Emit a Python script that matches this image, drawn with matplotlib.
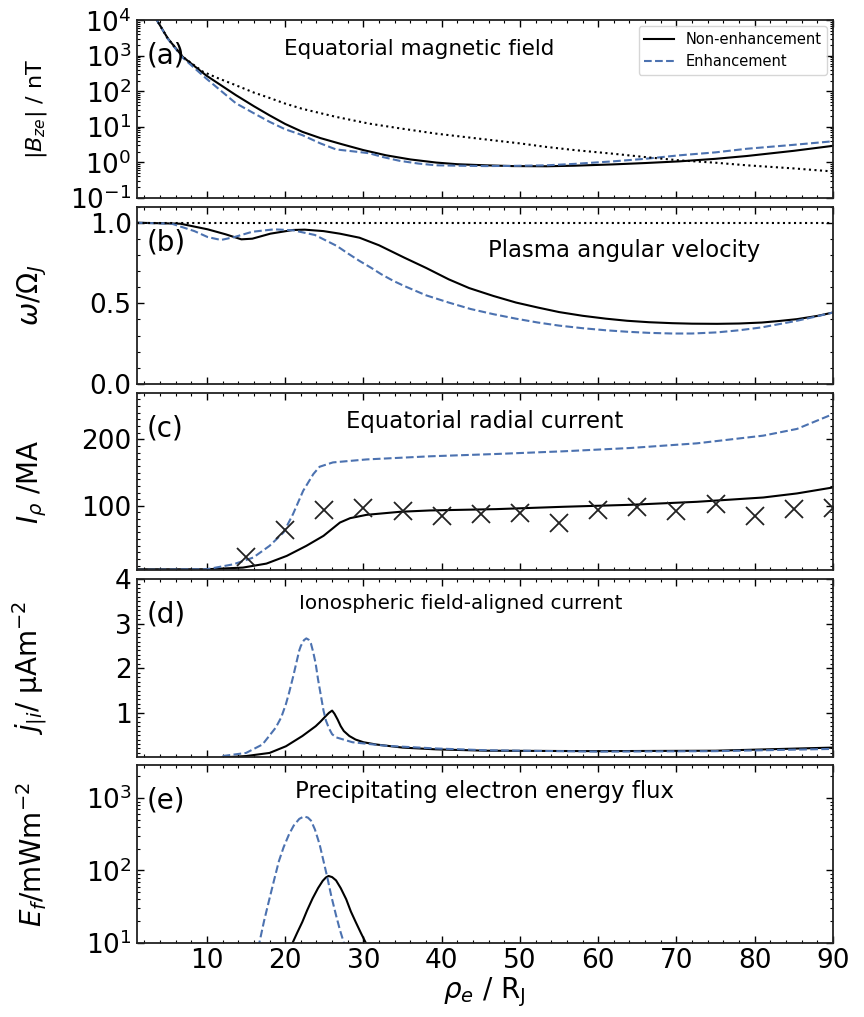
import numpy as np
import matplotlib
matplotlib.use('Agg')
import matplotlib.pyplot as plt
from matplotlib.ticker import MultipleLocator, LogLocator, NullFormatter

blue = '#4C72B0'

# (a) equatorial magnetic field |Bze| (nT)
xa = [3.4, 5.0, 6.9, 9.9, 13.7, 16.0, 18.0, 20.0, 22.2, 24.5, 27.3, 30.0, 32.9, 36.0, 39.3, 42.0,
      45.6, 49.0, 53.4, 57.0, 61.9, 66.0, 70.4, 75.0, 79.0, 85.0, 90.0]
ba_non = [12000, 3100, 940, 280, 78, 38, 21, 12, 7.2, 4.8, 3.2, 2.2, 1.57, 1.2, 0.98, 0.88,
          0.82, 0.78, 0.77, 0.8, 0.87, 0.95, 1.06, 1.25, 1.5, 2.1, 2.9]
xa_enh = [3.4, 5.0, 6.9, 9.9, 13.7, 16.0, 18.0, 20.0, 22.2, 24.5, 26.5, 28.5, 30.7, 32.5, 34.6,
          37.0, 39.3, 42.0, 45.6, 49.0, 53.4, 57.0, 61.9, 66.0, 70.4, 75.0, 79.0, 85.0, 90.0]
ba_enh = [12000, 3000, 890, 230, 46, 24, 13.8, 8.5, 5.8, 3.4, 2.3, 2.05, 1.8, 1.4, 1.1,
          0.92, 0.82, 0.8, 0.78, 0.79, 0.82, 0.9, 1.06, 1.25, 1.57, 1.9, 2.4, 3.1, 3.9]
xa_dip = [3.4, 5.0, 6.9, 9.5, 11.5, 13.7, 16.0, 18.0, 20.0, 22.2, 26.5, 30.7, 35.0, 39.3, 45.6,
          50.0, 53.4, 57.0, 61.9, 66.0, 70.4, 75.0, 79.0, 85.0, 90.0]
ba_dip = [12000, 3100, 940, 355, 230, 148, 92, 65, 45, 32, 19, 12.3, 8.8, 6.4, 4.4,
          3.4, 2.7, 2.2, 1.74, 1.4, 1.13, 0.97, 0.82, 0.67, 0.55]

# (b) plasma angular velocity
xb_non = [1, 6.6, 10.1, 12.4, 14.4, 15.8, 18.1, 21.0, 22.5, 24.9, 27.0, 29.5, 32.0, 35.2, 38.0,
          40.9, 43.5, 46.6, 49.5, 52.3, 55.0, 58.0, 61.0, 63.7, 66.5, 69.5, 72.0, 75.2, 78.0,
          80.9, 83.0, 85.4, 88.0, 90.0]
wb_non = [1.0, 0.994, 0.959, 0.928, 0.897, 0.901, 0.932, 0.955, 0.957, 0.948, 0.932, 0.907, 0.86,
          0.784, 0.72, 0.649, 0.595, 0.546, 0.505, 0.474, 0.446, 0.423, 0.405, 0.392, 0.383,
          0.377, 0.374, 0.373, 0.375, 0.381, 0.39, 0.402, 0.422, 0.443]
xb_enh = [1, 5.5, 8.4, 10.1, 11.8, 13.5, 15.8, 18.6, 21.0, 23.8, 26.6, 28.0, 29.5, 31.0, 32.3,
          33.8, 35.2, 38.0, 40.9, 43.7, 46.6, 49.5, 52.3, 55.0, 58.0, 61.0, 63.7, 66.5, 69.5,
          72.0, 75.2, 78.0, 80.9, 83.0, 85.4, 88.0, 90.0]
wb_enh = [1.0, 0.994, 0.948, 0.911, 0.893, 0.911, 0.944, 0.959, 0.953, 0.924, 0.856, 0.81,
          0.763, 0.72, 0.680, 0.64, 0.608, 0.55, 0.505, 0.465, 0.433, 0.405, 0.381, 0.362,
          0.346, 0.333, 0.324, 0.317, 0.313, 0.313, 0.320, 0.333, 0.351, 0.37, 0.392, 0.42, 0.443]

# (c) equatorial radial current (MA)
xc_non = [1, 10.0, 14.6, 17.6, 20.2, 22.7, 24.9, 27.0, 28.3, 30.4, 34.7, 38.5, 47.0, 55.5, 64.1,
          72.6, 81.1, 85.4, 90.0]
ic_non = [4.5, 4.5, 7, 13, 24.6, 39.7, 54.8, 74.8, 81.4, 86.4, 91, 93, 95, 98.5, 101.5,
          106, 112.5, 118.6, 127.6]
xc_enh = [1, 10.0, 13.4, 15.9, 18.0, 19.8, 21.0, 22.3, 23.6, 24.4, 26.1, 30.4, 38.5, 47.0, 55.5,
          64.1, 72.6, 81.1, 85.4, 90.0]
ic_enh = [3.5, 4.5, 12, 22, 39.7, 60, 87.5, 122.6, 147.8, 158.8, 165.3, 169.8, 174.5, 178, 182,
          187, 194, 205.6, 215.7, 238]
xc_obs = [15, 20, 25, 30, 35, 40, 45, 50, 55, 60, 65, 70, 75, 80, 85, 90]
ic_obs = [23, 64, 94, 96.7, 91.5, 85, 87.5, 88.5, 74.8, 93.5, 97.5, 91.5, 102.5, 85, 95, 96]

# (d) ionospheric field-aligned current (uA m^-2)
xd_non = [12.0, 15.0, 18.0, 20.1, 22.2, 23.9, 24.5, 25.2, 25.6, 26.0, 26.3, 26.7, 27.1, 27.5,
          28.2, 29.0, 30.0, 31.6, 35.0, 39.3, 45.7, 60, 75, 90]
jd_non = [0.0, 0.03, 0.1, 0.25, 0.48, 0.70, 0.8, 0.93, 1.0, 1.05, 0.98, 0.85, 0.7, 0.59,
          0.48, 0.40, 0.34, 0.29, 0.22, 0.18, 0.15, 0.14, 0.15, 0.22]
xd_enh = [12.0, 15.0, 17.1, 18.8, 19.5, 20.1, 20.5, 21.0, 21.4, 21.8, 22.0, 22.4, 22.7, 23.0,
          23.3, 23.6, 23.9, 24.2, 24.6, 24.9, 25.2, 25.6, 26.0, 26.5, 28.6, 32.9, 39.3, 45.7,
          60, 75, 90]
jd_enh = [0.03, 0.1, 0.29, 0.67, 0.9, 1.2, 1.45, 1.8, 2.1, 2.4, 2.5, 2.63, 2.67, 2.64,
          2.55, 2.35, 2.1, 1.75, 1.35, 1.05, 0.83, 0.65, 0.52, 0.45, 0.34, 0.26, 0.2, 0.16,
          0.13, 0.14, 0.19]

# (e) precipitating electron energy flux (mW m^-2)
xe_non = [20.5, 20.95, 21.5, 22.2, 22.8, 23.5, 24.2, 24.8, 25.2, 25.55, 26.0, 26.5, 27.1, 27.8,
          28.4, 29.0, 29.7, 30.3, 30.8]
ef_non = [6, 10, 13.5, 19.5, 28, 41, 57, 72, 80, 84, 81, 73, 57, 40, 27, 19.5, 13.5, 10, 6]
xe_enh = [16.2, 16.7, 17.3, 18.0, 18.6, 19.2, 19.8, 20.5, 21.1, 21.8, 22.4, 22.9, 23.3, 23.8,
          24.4, 24.9, 25.4, 25.9, 26.5, 27.0, 27.5, 27.9]
ef_enh = [6, 10, 20, 41, 75, 135, 210, 318, 420, 518, 560, 540, 490, 370, 230, 135, 79, 44,
          24, 15, 10, 6]

fig, axs = plt.subplots(5, 1, figsize=(8.64, 10.17), dpi=100, sharex=True)
plt.subplots_adjust(left=0.158, right=0.964, top=0.980, bottom=0.073, hspace=0.05)

lw = 1.5
ax = axs[0]
ax.plot(xa, ba_non, 'k-', lw=lw, label='Non-enhancement')
ax.plot(xa_enh, ba_enh, '--', color=blue, lw=lw, label='Enhancement')
ax.plot(xa_dip, ba_dip, 'k:', lw=lw)
ax.set_yscale('log')
ax.set_ylim(0.1, 1e4)
ax.yaxis.set_major_locator(LogLocator(base=10, numticks=10))
ax.yaxis.set_minor_locator(LogLocator(base=10, subs=np.arange(2, 10), numticks=20))
ax.yaxis.set_minor_formatter(NullFormatter())
ax.set_ylabel('$|B_{ze}|$ / nT', fontsize=16)
ax.legend(loc='upper right', fontsize=10.5, borderaxespad=0.4)

ax = axs[1]
ax.plot(xb_non, wb_non, 'k-', lw=lw)
ax.plot(xb_enh, wb_enh, '--', color=blue, lw=lw)
ax.axhline(1.0, color='k', ls=':', lw=lw)
ax.set_ylim(0, 1.1)
ax.yaxis.set_major_locator(MultipleLocator(0.5))
ax.yaxis.set_minor_locator(MultipleLocator(0.1))
ax.set_ylabel(r'$\omega/\Omega_J$', fontsize=20)

ax = axs[2]
ax.plot(xc_non, ic_non, 'k-', lw=lw)
ax.plot(xc_enh, ic_enh, '--', color=blue, lw=lw)
ax.plot(xc_obs, ic_obs, 'x', color='#222222', ms=13, mew=1.3)
ax.set_ylim(3, 270)
ax.yaxis.set_major_locator(MultipleLocator(100))
ax.yaxis.set_minor_locator(MultipleLocator(10))
ax.set_ylabel(r'$I_\rho$ /MA', fontsize=20)

ax = axs[3]
ax.plot(xd_non, jd_non, 'k-', lw=lw)
ax.plot(xd_enh, jd_enh, '--', color=blue, lw=lw)
ax.set_ylim(0.02, 4)
ax.set_yticks([1, 2, 3, 4])
ax.yaxis.set_minor_locator(MultipleLocator(0.1))
ax.set_ylabel('$j_{|i}$/ µAm$^{-2}$', fontsize=20)

ax = axs[4]
ax.plot(xe_non, ef_non, 'k-', lw=lw)
ax.plot(xe_enh, ef_enh, '--', color=blue, lw=lw)
ax.set_yscale('log')
ax.set_ylim(10, 2850)
ax.set_ylabel('$E_f$/mWm$^{-2}$', fontsize=20)
ax.set_xlabel(r'$\rho_e$ / R$_\mathrm{J}$', fontsize=20, labelpad=1)

ax.set_xlim(1, 90)
ax.xaxis.set_major_locator(MultipleLocator(10))
ax.xaxis.set_minor_locator(MultipleLocator(2))

titles = ['Equatorial magnetic field', 'Plasma angular velocity', 'Equatorial radial current',
          'Ionospheric field-aligned current', 'Precipitating electron energy flux']
tpos = [(0.406, 0.84), (0.70, 0.75), (0.50, 0.84), (0.465, 0.865), (0.50, 0.85)]
tsize = [15.5, 16.4, 16.4, 14.3, 16.4]
for i, a in enumerate(axs):
    a.tick_params(which='both', direction='in', top=True, right=True, labelsize=19)
    a.tick_params(which='major', length=5, width=1)
    a.tick_params(which='minor', length=2.5, width=0.8)
    for s in a.spines.values():
        s.set_linewidth(1.3)
        s.set_color('#222222')
    a.yaxis.set_label_coords(-0.125, 0.5)
    a.text(0.015, 0.80, '(%s)' % 'abcde'[i], transform=a.transAxes, fontsize=20, va='center')
    a.text(tpos[i][0], tpos[i][1], titles[i], transform=a.transAxes, fontsize=tsize[i],
           ha='center', va='center')

plt.savefig('out.png', dpi=100)
